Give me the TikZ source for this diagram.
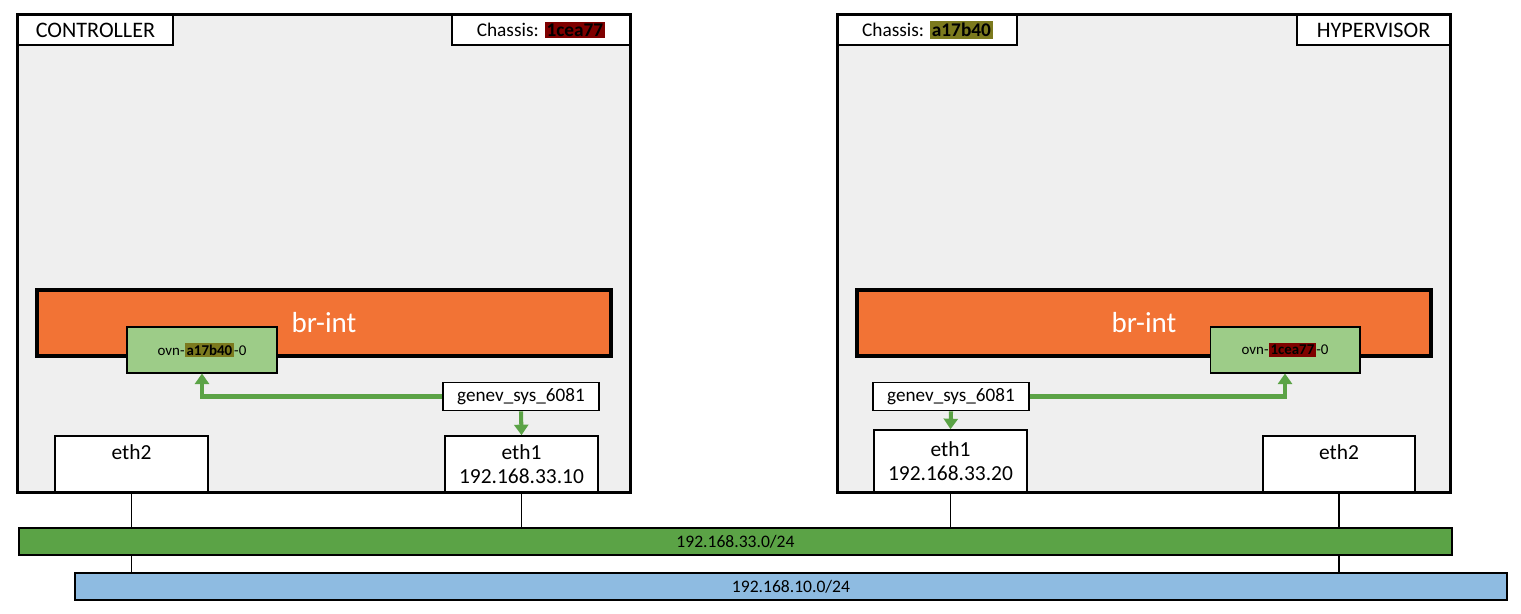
\documentclass[tikz,border=0pt]{standalone}
\usepackage{fontspec}
\setmainfont{Carlito}
\usetikzlibrary{arrows.meta}
\definecolor{panelgray}{HTML}{EFEFEF}
\definecolor{brorange}{HTML}{F27335}
\definecolor{tunnelgreen}{HTML}{9DCC88}
\definecolor{flowgreen}{HTML}{5BA346}
\definecolor{netgreen}{HTML}{5BA346}
\definecolor{netblue}{HTML}{8EBBE1}
\definecolor{idred}{HTML}{7F0000}
\definecolor{idolive}{HTML}{7C7A1E}
\newcommand{\chassisid}[2]{{\setlength{\fboxsep}{1.1pt}\colorbox{#1}{\textbf{#2}}}}
\begin{document}
\begin{tikzpicture}[x=0.02cm, y=-0.02cm,
  host/.style={fill=panelgray, minimum width=12.24cm, minimum height=9.54cm},
  hostframe/.style={line width=1.7pt},
  tag/.style={draw, fill=white, line width=0.9pt, minimum height=0.6cm, font=\fontsize{12.6}{14}\selectfont},
  idtag/.style={tag, font=\fontsize{11}{12}\selectfont},
  bridge/.style={draw, line width=2.6pt, fill=brorange, minimum width=11.48cm, minimum height=1.32cm, text=white, font=\fontsize{16.5}{18}\selectfont},
  tunnel/.style={draw, line width=0.6pt, fill=tunnelgreen, minimum width=3cm, minimum height=0.92cm, font=\fontsize{8.5}{10}\selectfont},
  port/.style={draw, fill=white, line width=0.9pt, minimum width=3.12cm, minimum height=0.54cm, font=\fontsize{10.9}{12}\selectfont},
  nic/.style={draw, fill=white, line width=0.9pt, minimum width=3.06cm, minimum height=1.12cm, align=center, font=\fontsize{12.2}{13.6}\selectfont},
  flow/.style={draw=flowgreen, line width=2.3pt, -{Triangle[width=8pt,length=6pt]}},
  net/.style={draw, line width=1.2pt, minimum height=0.54cm, font=\fontsize{10}{12}\selectfont},
  wire/.style={line width=0.6pt}]
  \useasboundingbox (0,0) rectangle (1521,614);

  % controller
  \node[host] (ctrl) at (324,253.5) {};
  \node[tag, minimum width=3.1cm] (ctrlname) at (95.5,30) {CONTROLLER};
  \node[idtag, minimum width=3.56cm] (chassisA) at (541,30) {Chassis: \chassisid{idred}{1cea77}};
  \node[bridge] (brA) at (324,323) {br-int};
  \node[tunnel] (ovnA) at (202,350) {ovn-\chassisid{idolive}{a17b40}-0};
  \node[port] (genevA) at (521,396.5) {genev\_sys\_6081};
  \node[nic] (eth2A) at (131.5,464) {eth2\\ \mbox{}};
  \node[nic] (eth1A) at (521.5,464) {eth1\\192.168.33.10};
  \draw[hostframe] (ctrl.north west) rectangle (ctrl.south east);
  \draw[flow] (genevA.west) -| (ovnA.south);
  \draw[flow] (genevA.south) -- (eth1A.north);

  % hypervisor
  \node[host] (hyp) at (1144,253.5) {};
  \node[idtag, minimum width=3.58cm] (chassisB) at (927.5,30) {Chassis: \chassisid{idolive}{a17b40}};
  \node[tag, minimum width=3.06cm] (hypname) at (1373.5,30) {HYPERVISOR};
  \node[bridge] (brB) at (1144,323) {br-int};
  \node[tunnel] (ovnB) at (1285,350) {ovn-\chassisid{idred}{1cea77}-0};
  \node[port] (genevB) at (951,396.5) {genev\_sys\_6081};
  \node[nic, minimum height=1.24cm] (eth1B) at (950.5,461) {eth1\\192.168.33.20};
  \node[nic, minimum width=3.04cm] (eth2B) at (1339,464) {eth2\\ \mbox{}};
  \draw[hostframe] (hyp.north west) rectangle (hyp.south east);
  \draw[flow] (genevB.east) -| (ovnB.south);
  \draw[flow] (genevB.south) -- (eth1B.north);

  % networks
  \node[net, fill=netgreen, minimum width=28.66cm] (net33) at (735.5,541.5) {192.168.33.0/24};
  \node[net, fill=netblue, minimum width=28.64cm] (net10) at (791,586.5) {192.168.10.0/24};
  \draw[wire] (eth1A.south) -- (eth1A.south |- net33.north);
  \draw[wire] (eth1B.south) -- (eth1B.south |- net33.north);
  \draw[wire] (eth2A.south) -- (eth2A.south |- net33.north)
              (eth2A.south |- net33.south) -- (eth2A.south |- net10.north);
  \draw[wire] (eth2B.south) -- (eth2B.south |- net33.north)
              (eth2B.south |- net33.south) -- (eth2B.south |- net10.north);
\end{tikzpicture}
\end{document}
